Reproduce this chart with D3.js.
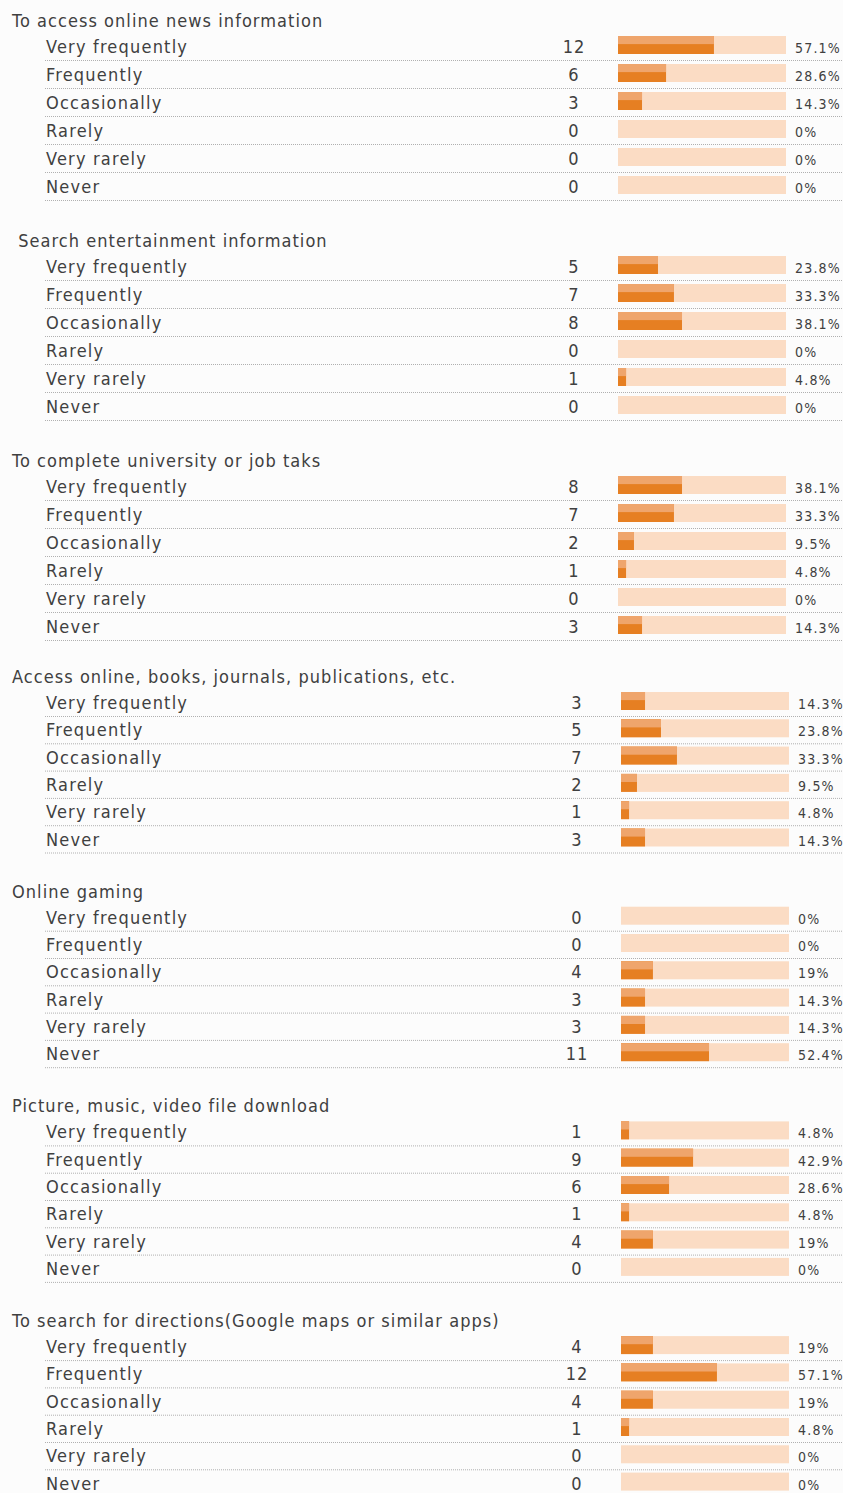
<!DOCTYPE html>
<html>
<head>
<meta charset="utf-8">
<script src="https://cdn.jsdelivr.net/npm/d3@7"></script>
<style>
  body { margin: 0; background: #fcfcfc; }
  svg text { font-family: "DejaVu Sans Condensed", "DejaVu Sans", sans-serif; fill: #404040; }
</style>
</head>
<body>
<div id="chart"></div>
<script>
// answer categories (same for every question)
const answers = ["Very frequently", "Frequently", "Occasionally", "Rarely", "Very rarely", "Never"];

// question titles
const questions = [
  "To access online news information",
  " Search entertainment information",
  "To complete university or job taks",
  "Access online, books, journals, publications, etc.",
  "Online gaming",
  "Picture, music, video file download",
  "To search for directions(Google maps or similar apps)"
];

// response counts per question
const counts = [
  [12, 6, 3, 0, 0, 0],
  [5, 7, 8, 0, 1, 0],
  [8, 7, 2, 1, 0, 3],
  [3, 5, 7, 2, 1, 3],
  [0, 0, 4, 3, 3, 11],
  [1, 9, 6, 1, 4, 0],
  [4, 12, 4, 1, 0, 0]
];

// percentages per question
const percents = [
  [57.1, 28.6, 14.3, 0, 0, 0],
  [23.8, 33.3, 38.1, 0, 4.8, 0],
  [38.1, 33.3, 9.5, 4.8, 0, 14.3],
  [14.3, 23.8, 33.3, 9.5, 4.8, 14.3],
  [0, 0, 19, 14.3, 14.3, 52.4],
  [4.8, 42.9, 28.6, 4.8, 19, 0],
  [19, 57.1, 19, 4.8, 0, 0]
];

const width = 843, height = 1493;
const svg = d3.select("#chart").append("svg")
  .attr("width", width).attr("height", height);

// the screenshot was stitched: lower part slightly tighter, bars shifted right
function layout(g) {
  if (g < 3) return { top: 20 + g * 220, rowH: 28, dx: 0 };
  return { top: 676 + (g - 3) * 214.7, rowH: 27.3, dx: 3 };
}

const x = d3.scaleLinear().domain([0, 100]).range([0, 168]);
const barH = 18;

questions.forEach((q, g) => {
  const L = layout(g);
  const grp = svg.append("g");

  grp.append("text")
    .attr("x", 12).attr("y", L.top + 7)
    .attr("font-size", 18)
    .attr("letter-spacing", 1.05)
    .attr("xml:space", "preserve")
    .style("white-space", "pre")
    .text(q);

  const y = d3.scaleLinear().domain([0, 1]).range([L.top + 26, L.top + 26 + L.rowH]);

  const rows = grp.selectAll("g.row").data(answers.map((a, i) => ({
    a, i, c: counts[g][i], p: percents[g][i]
  }))).enter().append("g").attr("class", "row")
    .attr("transform", d => `translate(0,${y(d.i)})`);

  rows.append("text")
    .attr("x", 46).attr("y", 7)
    .attr("font-size", 18)
    .attr("letter-spacing", 1.2)
    .text(d => d.a);

  rows.append("line")
    .attr("x1", 45).attr("x2", width)
    .attr("y1", 14.5).attr("y2", 14.5)
    .attr("stroke", "#b0b0b0")
    .attr("stroke-dasharray", "1,1");

  const right = rows.append("g").attr("transform", `translate(${L.dx},0)`);

  right.append("text")
    .attr("x", 574).attr("y", 7)
    .attr("text-anchor", "middle")
    .attr("font-size", 18)
    .attr("letter-spacing", 1)
    .text(d => d.c);

  right.append("rect")
    .attr("x", 618).attr("y", -barH / 2 - 1)
    .attr("width", x(100)).attr("height", barH)
    .attr("fill", "#fbdcc4");

  right.append("rect")
    .attr("x", 618).attr("y", -barH / 2 - 1)
    .attr("width", d => x(d.p)).attr("height", barH)
    .attr("fill", "#e67f22");

  right.append("rect")
    .attr("x", 618).attr("y", -barH / 2 - 1)
    .attr("width", d => x(d.p)).attr("height", barH * 0.45)
    .attr("fill", "#efa56c");

  right.append("text")
    .attr("x", 795).attr("y", 7)
    .attr("font-size", 14)
    .attr("letter-spacing", 1.2)
    .text(d => d.p + "%");
});
</script>
</body>
</html>
